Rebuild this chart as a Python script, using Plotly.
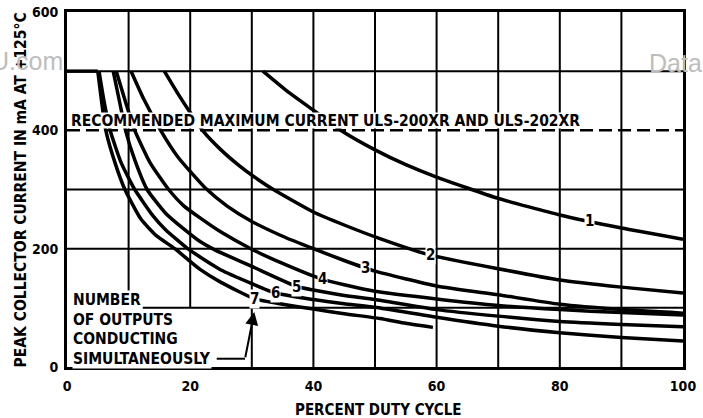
import plotly.graph_objects as go

# ---- data ----
c1_x = [31.8, 36, 40, 44.3, 50, 55, 60, 70, 80, 90, 100]
c1_y = [500, 464, 434, 401, 367, 342, 321, 285, 257, 235, 216]

c2_x = [15.8, 18, 20, 22, 25, 28, 31, 33.5, 40, 45, 50.8, 59, 70, 80, 90, 100]
c2_y = [500, 462, 430, 400, 367, 340, 317, 300, 262, 240, 217, 189, 166, 147, 135, 125]

c3_x = [10.4, 12.5, 15.2, 18, 22.5, 26, 30, 35, 40, 45, 50, 60, 70, 80, 90, 100]
c3_y = [500, 452, 400, 355, 302, 272, 246, 221, 200, 180, 162, 137, 122, 106, 97, 91]

c4_x = [8.0, 9.5, 11.0, 13.5, 16.5, 19, 21.6, 25, 30, 35, 41.5, 45, 50, 60, 70, 80, 90, 100]
c4_y = [500, 448, 400, 345, 300, 272, 252, 228, 199, 175, 148, 139, 128, 115, 104, 97, 92, 88]

c5_x = [7.5, 8.5, 9.5, 11, 13, 16, 19, 21.6, 24, 30, 37.3, 40, 45, 50, 60, 70, 80, 90, 100]
c5_y = [500, 450, 400, 350, 300, 260, 233, 212, 198, 170, 136, 130, 121, 114, 97, 86, 77, 72, 68]

c6_x = [5.2, 6.0, 7.0, 8.8, 11.0, 14, 16, 19.6, 21.6, 25, 30, 33.8, 40, 45, 50, 60, 70, 80, 90, 100]
c6_y = [500, 450, 400, 345, 300, 255, 232, 200, 186, 164, 141, 125, 114, 107, 101, 84, 69, 58, 50, 44]

c7_x = [0, 5.0, 5.6, 6.3, 7.8, 9.4, 12, 14.5, 17.5, 21.6, 25, 30.5, 35, 40, 45, 50.8, 55, 59.4]
c7_y = [500, 500, 450, 400, 345, 300, 250, 222, 200, 165, 143, 115, 106, 98, 90, 82, 74, 67]

curves_x = [c1_x, c2_x, c3_x, c4_x, c5_x, c6_x, c7_x]
curves_y = [c1_y, c2_y, c3_y, c4_y, c5_y, c6_y, c7_y]
curve_names = ["1", "2", "3", "4", "5", "6", "7"]
label_x = [84.9, 59.0, 48.4, 41.5, 37.3, 33.8, 30.5]
label_y = [247, 189, 167, 148, 136, 125, 115]

x_ticks = [0, 20, 40, 60, 80, 100]
y_ticks = [0, 200, 400, 600]
recommended_max = 400
rec_text = "RECOMMENDED MAXIMUM CURRENT ULS-200XR AND ULS-202XR"
note_lines = ["NUMBER", "OF OUTPUTS", "CONDUCTING", "SIMULTANEOUSLY"]

FONT = "DejaVu Sans Condensed, Liberation Sans Narrow, DejaVu Sans, sans-serif"

fig = go.Figure()

for xs, ys, nm in zip(curves_x, curves_y, curve_names):
    # flat 500 mA plateau (only where it is drawn from 0) as straight segment
    start = 0
    if xs[0] == 0:
        fig.add_trace(go.Scatter(x=xs[:2], y=ys[:2], mode="lines",
                                 line=dict(color="black", width=3.5),
                                 showlegend=False, hoverinfo="skip"))
        start = 1
    fig.add_trace(go.Scatter(x=xs[start:], y=ys[start:], mode="lines", name=nm,
                             line=dict(color="black", width=3.5, shape="spline", smoothing=0.5),
                             showlegend=False, hoverinfo="skip"))

shapes = []
# grid lines
for gx in range(10, 100, 10):
    y0 = 0
    if gx == 10:
        y0 = 118
    elif gx == 20:
        y0 = 100
    shapes.append(dict(type="line", xref="x", yref="y", x0=gx, x1=gx, y0=y0, y1=600,
                       line=dict(color="black", width=2), layer="below"))
for gy in [100, 200, 300, 500]:
    x0 = 12.3 if gy == 100 else 0
    shapes.append(dict(type="line", xref="x", yref="y", x0=x0, x1=100, y0=gy, y1=gy,
                       line=dict(color="black", width=2), layer="below"))
# white backing behind the recommended-current caption
shapes.append(dict(type="rect", xref="x", yref="y", x0=0.4, x1=83.6, y0=403, y1=430,
                   fillcolor="white", line=dict(width=0), layer="above"))
# recommended maximum dashed line
shapes.append(dict(type="line", xref="x", yref="y", x0=0, x1=100, y0=recommended_max, y1=recommended_max,
                   line=dict(color="black", width=2.5, dash="13px,6px"), layer="above"))
# leader from note to arrow
shapes.append(dict(type="line", xref="x", yref="y", x0=24.3, x1=28.9, y0=14, y1=14,
                   line=dict(color="black", width=2)))

annotations = []
for lx, ly, nm in zip(label_x, label_y, curve_names):
    annotations.append(dict(x=lx, y=ly, xref="x", yref="y", text=nm, showarrow=False,
                            font=dict(family=FONT, size=15, color="black", weight="bold"),
                            bgcolor="white", borderpad=0))

annotations.append(dict(x=0.4, y=416, xref="x", yref="y", text=rec_text, showarrow=False,
                        xanchor="left", yanchor="middle",
                        font=dict(family=FONT, size=15.5, color="black", weight="bold")))

for i, t in enumerate(note_lines):
    annotations.append(dict(x=0.8, y=113 - i * 33, xref="x", yref="y", text=t, showarrow=False,
                            xanchor="left", yanchor="middle",
                            font=dict(family=FONT, size=15.5, color="black", weight="bold"),
                            bgcolor="white", borderpad=0))

annotations.append(dict(x=30.4, y=93, xref="x", yref="y", ax=28.9, ay=14, axref="x", ayref="y",
                        text="", showarrow=True, arrowhead=2, arrowsize=1.3, arrowwidth=2,
                        arrowcolor="black"))

# axis titles
annotations.append(dict(x=-0.0747, y=0.50, xref="paper", yref="paper",
                        text="PEAK COLLECTOR CURRENT IN mA AT +125°C", textangle=-90,
                        showarrow=False, xanchor="center", yanchor="middle",
                        font=dict(family=FONT, size=15.5, color="black", weight="bold")))
annotations.append(dict(x=0.505, y=-0.121, xref="paper", yref="paper",
                        text="PERCENT DUTY CYCLE", showarrow=False,
                        xanchor="center", yanchor="middle",
                        font=dict(family=FONT, size=15, color="black", weight="bold")))

# scan watermarks
annotations.append(dict(x=-0.003, y=0.862, xref="paper", yref="paper", text="U.com",
                        showarrow=False, xanchor="right", yanchor="middle",
                        font=dict(family="Liberation Sans, Arial", size=25, color="#bdbdbd")))
annotations.append(dict(x=0.9416, y=0.856, xref="paper", yref="paper", text="Data",
                        showarrow=False, xanchor="left", yanchor="middle",
                        font=dict(family="Liberation Sans, Arial", size=25, color="#bdbdbd")))

fig.update_layout(
    width=703, height=418,
    margin=dict(l=67, r=20, t=12, b=51, autoexpand=False),
    paper_bgcolor="white", plot_bgcolor="white",
    shapes=shapes, annotations=annotations,
    showlegend=False,
    xaxis=dict(range=[0, 100], tickvals=x_ticks, ticktext=[str(v) for v in x_ticks],
               showgrid=False, zeroline=False, showline=True, mirror=True, automargin=False,
               linecolor="black", linewidth=3, ticks="", ticklabelstandoff=4,
               tickfont=dict(family=FONT, size=14, color="black", weight="bold")),
    yaxis=dict(range=[0, 600], tickvals=y_ticks, ticktext=[str(v) for v in y_ticks],
               showgrid=False, zeroline=False, showline=True, mirror=True, automargin=False,
               linecolor="black", linewidth=3, ticks="", ticklabelstandoff=3,
               tickfont=dict(family=FONT, size=14, color="black", weight="bold")),
)

fig.write_html("out.html", config={"displayModeBar": False},
               post_script="document.body.style.margin='0';document.body.style.padding='0';"
                           "document.documentElement.style.overflow='hidden';")
